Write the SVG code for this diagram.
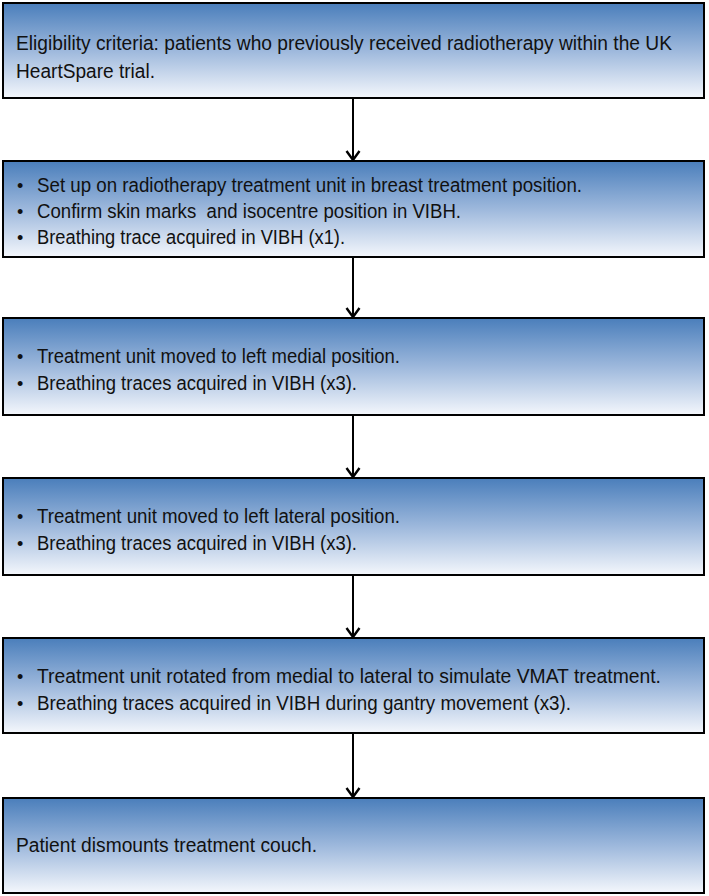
<svg xmlns="http://www.w3.org/2000/svg" width="709" height="896" viewBox="0 0 709 896">
<defs>
<linearGradient id="g" x1="0" y1="0" x2="0" y2="1">
<stop offset="0" stop-color="#4a7ebb"/>
<stop offset="0.5" stop-color="#9db8dc"/>
<stop offset="1" stop-color="#f4f7fc"/>
</linearGradient>
<marker id="ah" markerWidth="14" markerHeight="16" refX="12" refY="8" orient="auto" markerUnits="userSpaceOnUse" viewBox="0 0 14 16">
<path d="M3,1.5 L12,8 L3,14.5" fill="none" stroke="#000" stroke-width="2.4"/>
</marker>
</defs>
<style>
.box{fill:url(#g);stroke:#000;stroke-width:2}
.t{font-family:"Liberation Sans",Arial,sans-serif;font-size:19.5px;fill:#111}
.b{font-family:"Liberation Sans",Arial,sans-serif;font-size:18px;fill:#111}
.c{stroke:#000;stroke-width:2;fill:none}
</style>
<g id="n1">
<rect class="box" x="3" y="3" width="701" height="95"/>
<text class="t" x="16" y="50" textLength="656" lengthAdjust="spacingAndGlyphs">Eligibility criteria: patients who previously received radiotherapy within the UK</text>
<text class="t" x="16" y="78" textLength="139" lengthAdjust="spacingAndGlyphs">HeartSpare trial.</text>
</g>
<g id="n2">
<rect class="box" x="3" y="161" width="701" height="96"/>
<text class="b" x="17" y="192">•</text><text class="t" x="37" y="192" textLength="545" lengthAdjust="spacingAndGlyphs">Set up on radiotherapy treatment unit in breast treatment position.</text>
<text class="b" x="17" y="218">•</text><text class="t" x="37" y="218" textLength="424" lengthAdjust="spacingAndGlyphs" xml:space="preserve">Confirm skin marks  and isocentre position in VIBH.</text>
<text class="b" x="17" y="244">•</text><text class="t" x="37" y="244" textLength="308" lengthAdjust="spacingAndGlyphs">Breathing trace acquired in VIBH (x1).</text>
</g>
<g id="n3">
<rect class="box" x="3" y="318" width="701" height="97"/>
<text class="b" x="17" y="363">•</text><text class="t" x="37" y="363" textLength="363" lengthAdjust="spacingAndGlyphs">Treatment unit moved to left medial position.</text>
<text class="b" x="17" y="390">•</text><text class="t" x="37" y="390" textLength="320" lengthAdjust="spacingAndGlyphs">Breathing traces acquired in VIBH (x3).</text>
</g>
<g id="n4">
<rect class="box" x="3" y="478" width="701" height="97"/>
<text class="b" x="17" y="523">•</text><text class="t" x="37" y="523" textLength="363" lengthAdjust="spacingAndGlyphs">Treatment unit moved to left lateral position.</text>
<text class="b" x="17" y="550">•</text><text class="t" x="37" y="550" textLength="320" lengthAdjust="spacingAndGlyphs">Breathing traces acquired in VIBH (x3).</text>
</g>
<g id="n5">
<rect class="box" x="3" y="638" width="701" height="95"/>
<text class="b" x="17" y="683">•</text><text class="t" x="37" y="683" textLength="624" lengthAdjust="spacingAndGlyphs">Treatment unit rotated from medial to lateral to simulate VMAT treatment.</text>
<text class="b" x="17" y="710">•</text><text class="t" x="37" y="710" textLength="534" lengthAdjust="spacingAndGlyphs">Breathing traces acquired in VIBH during gantry movement (x3).</text>
</g>
<g id="n6">
<rect class="box" x="3" y="798" width="701" height="95"/>
<text class="t" x="16" y="852" textLength="301" lengthAdjust="spacingAndGlyphs">Patient dismounts treatment couch.</text>
</g>
<g id="connectors">
<line class="c" x1="353" y1="98" x2="353" y2="160" marker-end="url(#ah)"/>
<line class="c" x1="353" y1="257" x2="353" y2="317" marker-end="url(#ah)"/>
<line class="c" x1="353" y1="415" x2="353" y2="477" marker-end="url(#ah)"/>
<line class="c" x1="353" y1="575" x2="353" y2="637" marker-end="url(#ah)"/>
<line class="c" x1="353" y1="733" x2="353" y2="797" marker-end="url(#ah)"/>
</g>
</svg>
